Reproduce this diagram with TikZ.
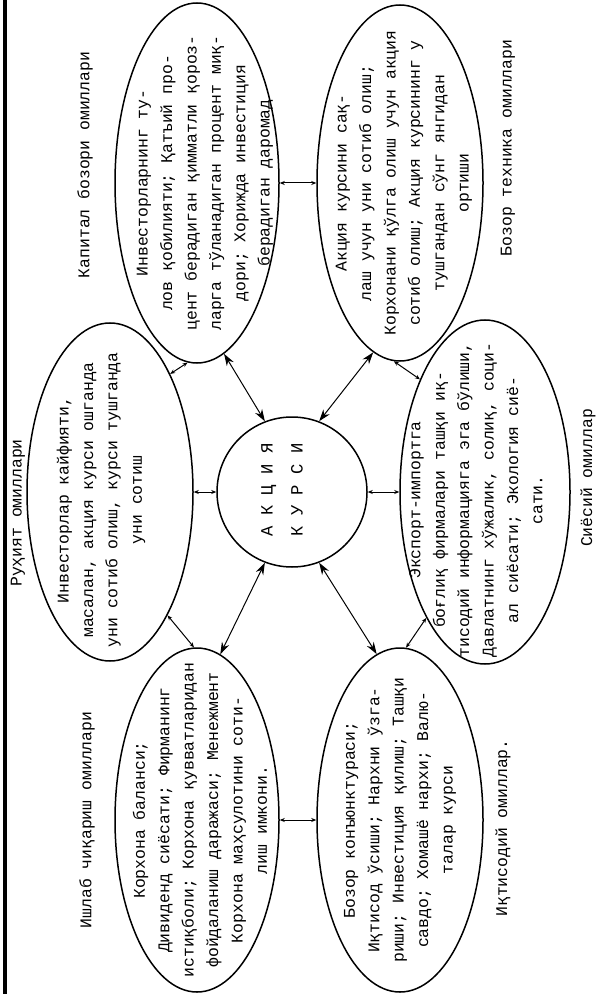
\documentclass[tikz,border=0pt]{standalone}
\usepackage{fontspec}
\setmainfont{Liberation Mono}
\usetikzlibrary{shapes.geometric,arrows.meta}

\begin{document}
\begin{tikzpicture}[x=0.5pt,y=-0.5pt,
    oval/.style={draw,ellipse,line width=0.75pt,inner sep=0pt},
    txt/.style={rotate=90,align=center,inner sep=0pt,font=\fontsize{8.2}{12.2}\selectfont},
    lbl/.style={rotate=90,inner sep=0pt,font=\fontsize{8.2}{10}\selectfont},
    longarr/.style={{Stealth[length=6pt,width=4pt]}-{Stealth[length=6pt,width=4pt]},line width=0.5pt},
    shortarr/.style={{Stealth[length=2.5pt,width=2pt]}-{Stealth[length=2.5pt,width=2pt]},line width=0.5pt}]
    \useasboundingbox (0,0) rectangle (606,994);
    \draw[line width=2pt] (5,0) -- (5,994);

    % ovals and the middle circle
    \node[oval,minimum width=82pt,minimum height=180pt] (cap) at (197,183) {};
    \node[oval,minimum width=83pt,minimum height=178pt] (tech) at (400,183) {};
    \node[oval,minimum width=83pt,minimum height=169pt] (psy) at (110,492) {};
    \node[oval,minimum width=85pt,minimum height=172pt] (pol) at (485,492) {};
    \node[oval,minimum width=82pt,minimum height=172pt] (prod) at (197,820) {};
    \node[oval,minimum width=83pt,minimum height=172pt] (econ) at (400,820) {};
    \node[draw,circle,line width=0.75pt,minimum size=75pt] (akc) at (292,492) {};

    % texts inside
    \node[txt] (captxt) at (205,183) {Инвесторларнинг ту-\\лов қобилияти; Қатъий про-\\цент берадиган қимматли қороз-\\ларга тўланадиган процент миқ-\\дори; Хорижда инвестиция\\берадиган даромад};
    \node[txt] (techtxt) at (404,183) {Акция курсини сақ-\\лаш учун уни сотиб олиш;\\Корхонани қўлга олиш учун акция\\сотиб олиш; Акция курсининг у\\тушгандан сўнг янгидан\\ортиши};
    \node[txt] (psytxt) at (101,500) {Инвесторлар кайфияти,\\масалан, акция курси ошганда\\уни сотиб олиш, курси тушганда\\уни сотиш};
    \node[txt] (poltxt) at (476,500) {Экспорт-импортга\\боғлиқ фирмалари ташқи иқ-\\тисодий информацияга эга бўлиши,\\Давлатнинг хўжалик, солиқ, соци-\\ал сиёсати; Экология сиё-\\сати.};
    \node[txt] (prodtxt) at (200,820) {Корхона баланси;\\Дивиденд сиёсати; Фирманинг\\истиқболи; Корхона қувватларидан\\фойдаланиш даражаси; Менежмент\\Корхона маҳсулотини соти-\\лиш имкони.};
    \node[txt] (econtxt) at (400,820) {Бозор конъюнктураси;\\Иқтисод ўсиши; Нархни ўзга-\\риши; Инвестиция қилиш; Ташқи\\савдо; Хомашё нархи; Валю-\\талар курси};
    \node[rotate=90,align=center,inner sep=0pt,font=\fontsize{8.6}{15}\selectfont] (akctxt) at (282,490) {А К Ц И Я\\К У Р С И};

    % group names
    \node[lbl] (capl) at (85,165) {Капитал бозори омиллари};
    \node[lbl] (techl) at (508,148) {Бозор техника омиллари};
    \node[lbl] (psyl) at (18,513) {Руҳият омиллари};
    \node[lbl] (poll) at (588,478) {Сиёсий омиллар};
    \node[lbl] (prodl) at (87,820) {Ишлаб чиқариш омиллари};
    \node[lbl] (econl) at (503,828) {Иқтисодий омиллар.};

    % connectors
    \draw[longarr] (cap.-81) -- (akc.111);
    \draw[longarr] (akc.-111) -- (prod.82);
    \draw[longarr] (akc.69) -- (tech.-99);
    \draw[longarr] (akc.-69) -- (econ.98);
    \draw[shortarr] (cap.east) -- (tech.west);
    \draw[shortarr] (psy.east) -- (akc.west);
    \draw[shortarr] (akc.east) -- (pol.west);
    \draw[shortarr] (prod.east) -- (econ.west);
    \draw[shortarr] (cap.-93) -- (psy.63);
    \draw[shortarr] (psy.-65) -- (prod.91);
    \draw[shortarr] (tech.-92) -- (pol.120);
    \draw[shortarr] (pol.-115) -- (econ.88);
\end{tikzpicture}
\end{document}
